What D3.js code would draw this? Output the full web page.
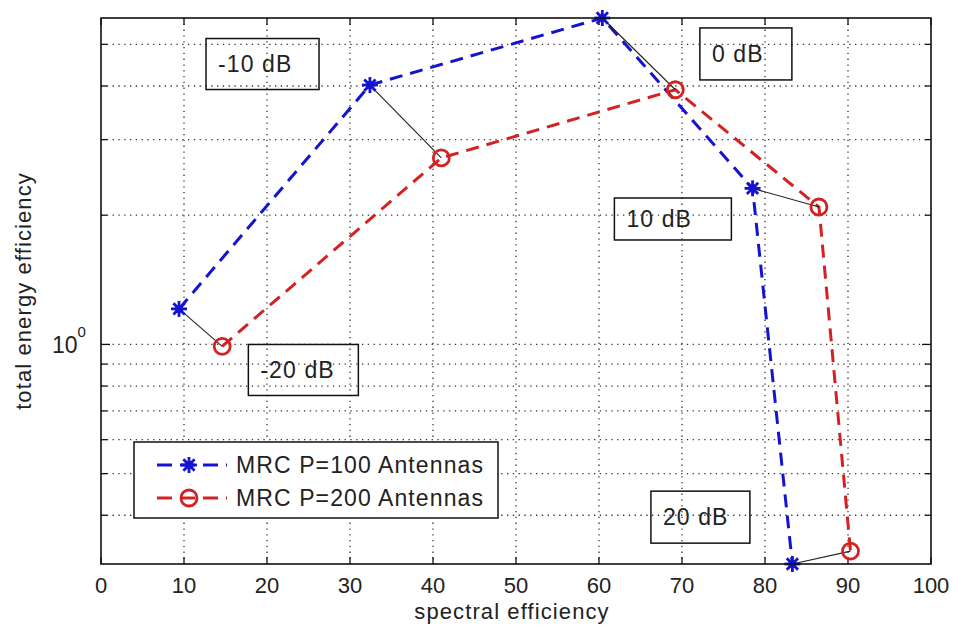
<!DOCTYPE html>
<html><head><meta charset="utf-8">
<script src="https://cdn.jsdelivr.net/npm/d3@7"></script>
<style>
body{margin:0;background:#fff;}
svg text{font-family:"Liberation Sans",Arial,Helvetica,sans-serif;fill:#222;}
</style></head>
<body><svg id="c" width="953" height="635"></svg>
<script>
// ---- data ----
const seriesNames = ["MRC P=100 Antennas", "MRC P=200 Antennas"];
const snrLabels = ["-20 dB", "-10 dB", "0 dB", "10 dB", "20 dB"];
const p100X = [9.4, 32.4, 60.4, 78.5, 83.3];
const p100Y = [1.21, 4.02, 5.76, 2.31, 0.308];
const p200X = [14.6, 41.0, 69.2, 86.5, 90.3];
const p200Y = [0.99, 2.72, 3.92, 2.09, 0.330];
const xTicks = [0, 10, 20, 30, 40, 50, 60, 70, 80, 90, 100];
const yGrid = [0.4, 0.5, 0.6, 0.7, 0.8, 0.9, 1, 2, 3, 4, 5];
const yTickLabels = [1];
// annotation anchors (text left, text middle) in data coordinates
const annX = [19.2, 14.1, 73.6, 63.3, 67.7];
const annY = [0.872, 4.50, 4.75, 1.96, 0.396];
// annotation box sizes (px)
const annBoxW = [110, 113, 92, 117, 99];
const annBoxH = [51, 51, 52, 42, 52];

// ---- layout ----
const L = 101, R = 931, T = 18, B = 564;
const svg = d3.select("#c");
const x = d3.scaleLinear().domain([0, 100]).range([L, R]);
const yExt = d3.extent(p100Y.concat(p200Y));
const y = d3.scaleLog().domain(yExt).range([B, T]);

const blue = "#1414d0", red = "#d42222";

// grid
const g = svg.append("g");
g.selectAll(".vg").data(xTicks.slice(1, -1)).enter().append("line")
  .attr("x1", d => x(d)).attr("x2", d => x(d)).attr("y1", T).attr("y2", B)
  .attr("stroke", "#333").attr("stroke-width", 1.3).attr("stroke-dasharray", "1.3,4.5");
g.selectAll(".hg").data(yGrid).enter().append("line")
  .attr("x1", L).attr("x2", R).attr("y1", d => y(d)).attr("y2", d => y(d))
  .attr("stroke", "#333").attr("stroke-width", 1.3).attr("stroke-dasharray", "1.3,4.5");

// ticks (inside, all four sides)
const tl = 7;
xTicks.forEach(d => {
  g.append("line").attr("x1", x(d)).attr("x2", x(d)).attr("y1", B).attr("y2", B - tl).attr("stroke", "#111").attr("stroke-width", 1.3);
  g.append("line").attr("x1", x(d)).attr("x2", x(d)).attr("y1", T).attr("y2", T + tl).attr("stroke", "#111").attr("stroke-width", 1.3);
});
yGrid.forEach(d => {
  const len = d === 1 ? 9 : 6;
  g.append("line").attr("x1", L).attr("x2", L + len).attr("y1", y(d)).attr("y2", y(d)).attr("stroke", "#111").attr("stroke-width", 1.3);
  g.append("line").attr("x1", R).attr("x2", R - len).attr("y1", y(d)).attr("y2", y(d)).attr("stroke", "#111").attr("stroke-width", 1.3);
});

// tick labels
svg.selectAll(".xt").data(xTicks).enter().append("text")
  .attr("x", d => x(d)).attr("y", 593).attr("text-anchor", "middle")
  .attr("font-size", 22).text(d => d);
yTickLabels.forEach(d => {
  const t = svg.append("text").attr("x", 52).attr("y", y(d) + 9).attr("font-size", 23);
  t.append("tspan").text("10");
  t.append("tspan").attr("dy", -16).attr("font-size", 15).text(Math.round(Math.log10(d)));
});

// axis labels
svg.append("text").attr("x", 512).attr("y", 619).attr("text-anchor", "middle")
  .attr("font-size", 22).attr("letter-spacing", 1.1).text("spectral efficiency");
svg.append("text").attr("transform", `translate(31,${(T + B) / 2}) rotate(-90)`)
  .attr("text-anchor", "middle").attr("font-size", 22).attr("letter-spacing", 1.1)
  .text("total energy efficiency");

// series
const s1 = p100X.map((d, i) => [d, p100Y[i]]);
const s2 = p200X.map((d, i) => [d, p200Y[i]]);
const line = d3.line().x(d => x(d[0])).y(d => y(d[1]));
svg.append("path").attr("d", line(s2)).attr("fill", "none").attr("stroke", red)
  .attr("stroke-width", 3).attr("stroke-dasharray", "13,8");
svg.append("path").attr("d", line(s1)).attr("fill", "none").attr("stroke", blue)
  .attr("stroke-width", 3).attr("stroke-dasharray", "13,8");

// connectors
s1.forEach((d, i) => {
  svg.append("line").attr("x1", x(d[0])).attr("y1", y(d[1]))
    .attr("x2", x(s2[i][0])).attr("y2", y(s2[i][1]))
    .attr("stroke", "#222").attr("stroke-width", 1.1);
});

function star(sel, cx, cy, r, col) {
  const gg = sel.append("g").attr("transform", `translate(${cx},${cy})`);
  for (let k = 0; k < 4; k++) {
    const a = k * Math.PI / 4;
    gg.append("line").attr("x1", -r * Math.cos(a)).attr("y1", -r * Math.sin(a))
      .attr("x2", r * Math.cos(a)).attr("y2", r * Math.sin(a))
      .attr("stroke", col).attr("stroke-width", 2.8);
  }
  gg.append("circle").attr("r", 4).attr("fill", col);
}
function ring(sel, cx, cy, col) {
  sel.append("circle").attr("cx", cx).attr("cy", cy).attr("r", 8)
    .attr("fill", "none").attr("stroke", col).attr("stroke-width", 2.8);
}
s1.forEach(d => star(svg, x(d[0]), y(d[1]), 8, blue));
s2.forEach(d => ring(svg, x(d[0]), y(d[1]), red));

// annotations
snrLabels.forEach((lab, i) => {
  const tx = x(annX[i]), ty = y(annY[i]);
  svg.append("rect").attr("x", tx - 12).attr("y", ty - annBoxH[i] / 2)
    .attr("width", annBoxW[i]).attr("height", annBoxH[i])
    .attr("fill", "none").attr("stroke", "#111").attr("stroke-width", 1.5);
  svg.append("text").attr("x", tx).attr("y", ty).attr("dy", "0.36em")
    .attr("font-size", 23).attr("letter-spacing", 1.1).text(lab);
});

// legend
const lg = svg.append("g");
lg.append("rect").attr("x", 134).attr("y", 442).attr("width", 364).attr("height", 76)
  .attr("fill", "#fff").attr("stroke", "#111").attr("stroke-width", 1.5);
const cols = [blue, red];
seriesNames.forEach((nm, i) => {
  const cy = 465 + i * 33;
  lg.append("line").attr("x1", 157).attr("x2", 227).attr("y1", cy).attr("y2", cy)
    .attr("stroke", cols[i]).attr("stroke-width", 3).attr("stroke-dasharray", "15,8");
  if (i === 0) star(lg, 189, cy, 8, blue); else ring(lg, 189, cy, red);
  lg.append("text").attr("x", 236).attr("y", cy).attr("dy", "0.36em")
    .attr("font-size", 23).attr("letter-spacing", 1.1).text(nm);
});

// frame
svg.append("rect").attr("x", L).attr("y", T).attr("width", R - L).attr("height", B - T)
  .attr("fill", "none").attr("stroke", "#111").attr("stroke-width", 1.6);
</script></body></html>
